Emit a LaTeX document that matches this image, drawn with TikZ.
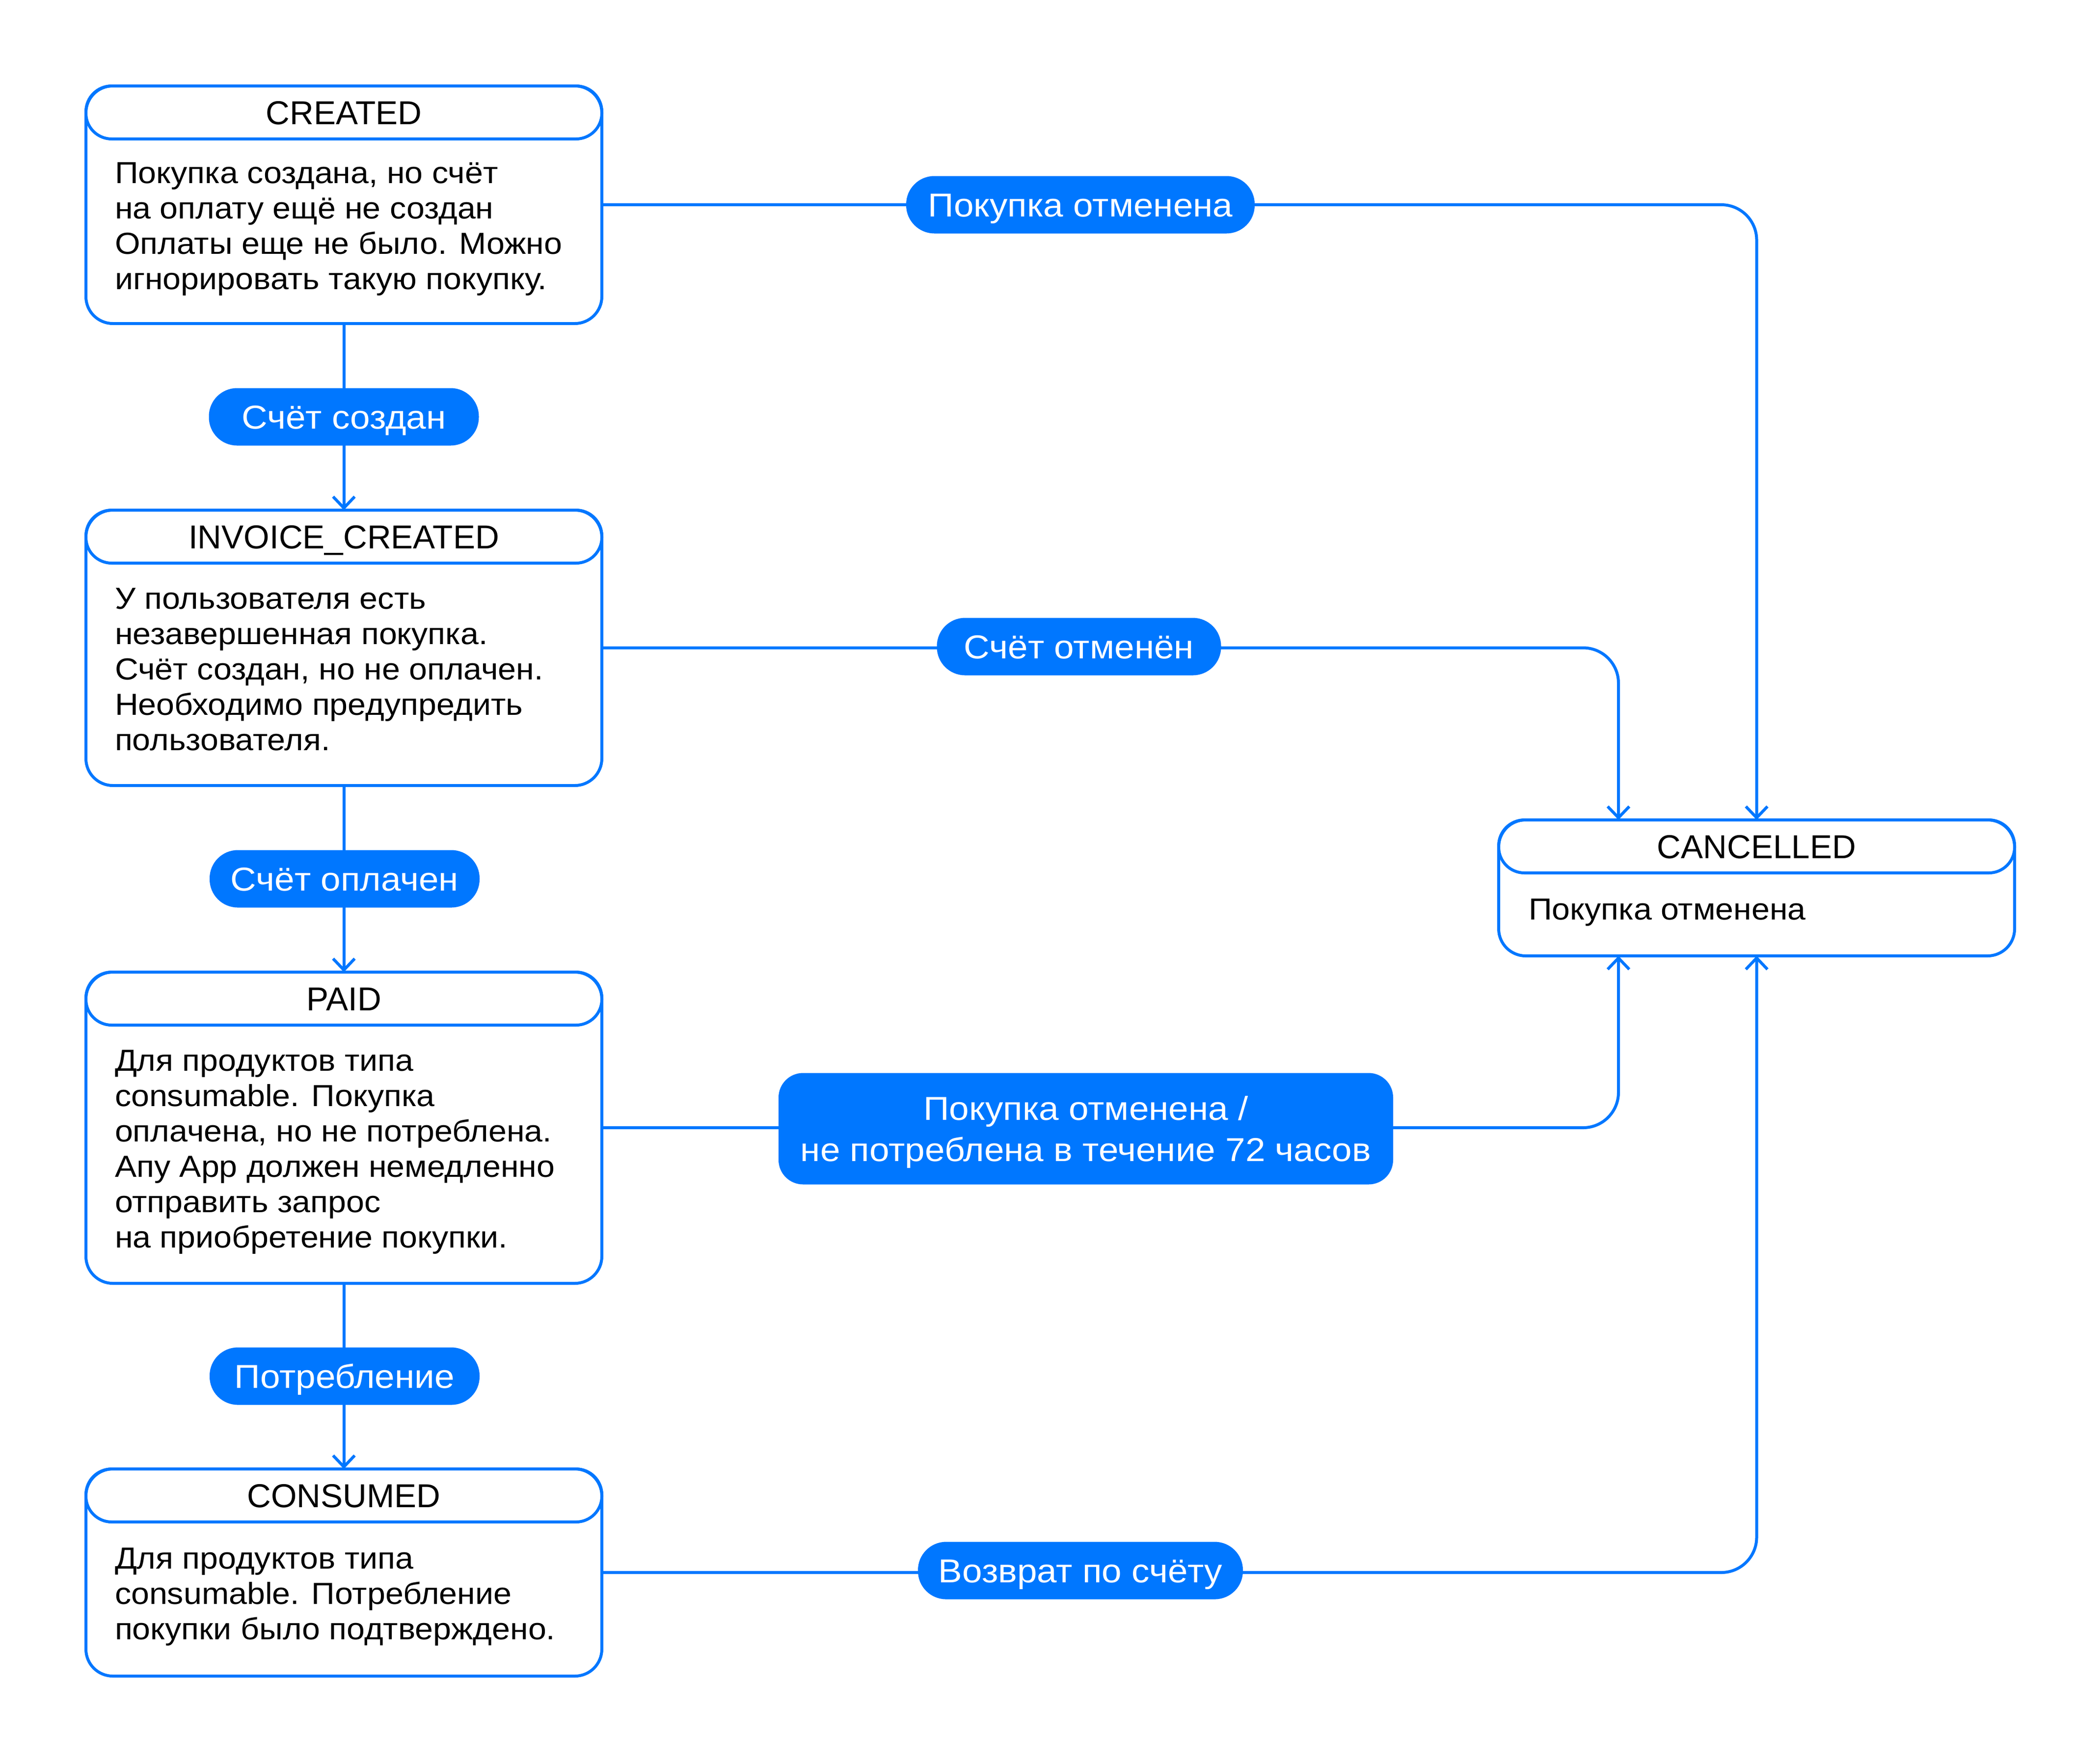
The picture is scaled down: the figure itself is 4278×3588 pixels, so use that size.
\documentclass[tikz,border=0pt]{standalone}
\usepackage{fontspec}
\setmainfont{Liberation Sans}
\newfontfamily\bodyfont{Liberation Sans}[FakeStretch=1.07]
\newfontfamily\pillfont{Liberation Sans}[FakeStretch=1.08]
\usetikzlibrary{arrows.meta}
\definecolor{brand}{HTML}{0077FF}
\begin{document}
\begin{tikzpicture}[x=0.2pt,y=-0.2pt,
 box/.style={draw=brand,line width=1.2pt,rounded corners=11pt,fill=white,inner sep=0pt,outer sep=0pt,minimum width=210.2pt,anchor=north west},
 head/.style={draw=brand,line width=1.2pt,rounded corners=10.5pt,inner sep=0pt,outer sep=0pt,minimum width=210.2pt,minimum height=21.6pt,anchor=north west,font=\fontsize{13.5pt}{16pt}\selectfont,text height=9.7pt,text depth=0pt},
 body/.style={font=\bodyfont\fontsize{12.4pt}{14.4pt}\selectfont,anchor=base west,inner sep=0pt},
 pill/.style={fill=brand,text=white,rounded corners=11.5pt,inner sep=0pt,minimum height=23.4pt,font=\pillfont\fontsize{13.5pt}{16pt}\selectfont,text height=9.7pt,text depth=0pt},
 conn/.style={draw=brand,line width=1.2pt,rounded corners=14.4pt},
 tip/.style={-{Straight Barb[length=4.6pt,width=8.8pt]}}
]
\useasboundingbox (0,0) rectangle (4278,3588);
\fill[white] (0,0) rectangle (4278,3588);

% boxes
\node[box,minimum height=96.8pt] (created) at (175,175) {};
\node[head] (createdH) at (175,175) {CREATED};
\node[body] (createdT) at (233,373.6) {\vtop{\hbox{Покупка создана, но счёт}\hbox{на оплату ещё не создан}\hbox{Оплаты еще не было. Можно}\hbox{игнорировать такую покупку.}}};

\node[box,minimum height=112.2pt] (invoice) at (175,1039) {};
\node[head] (invoiceH) at (175,1039) {INVOICE\_CREATED};
\node[body] (invoiceT) at (233,1240) {\vtop{\hbox{У пользователя есть}\hbox{незавершенная покупка.}\hbox{Счёт создан, но не оплачен.}\hbox{Необходимо предупредить}\hbox{пользователя.}}};

\node[box,minimum height=126.8pt] (paid) at (175,1980) {};
\node[head] (paidH) at (175,1980) {PAID};
\node[body] (paidT) at (233,2181.5) {\vtop{\hbox{Для продуктов типа}\hbox{consumable. Покупка}\hbox{оплачена, но не потреблена.}\hbox{Апу App должен немедленно}\hbox{отправить запрос}\hbox{на приобретение покупки.}}};

\node[box,minimum height=84.4pt] (consumed) at (175,2992) {};
\node[head] (consumedH) at (175,2992) {CONSUMED};
\node[body] (consumedT) at (233,3195) {\vtop{\hbox{Для продуктов типа}\hbox{consumable. Потребление}\hbox{покупки было подтверждено.}}};

\node[box,minimum height=55.4pt] (cancelled) at (3053,1670) {};
\node[head] (cancelledH) at (3053,1670) {CANCELLED};
\node[body] (cancelledT) at (3113,1873.5) {Покупка отменена};

% connectors
\draw[conn,tip] (created.south) -- (invoice.north);
\draw[conn,tip] (invoice.south) -- (paid.north);
\draw[conn,tip] (paid.south) -- (consumed.north);
\draw[conn,tip] (created.east) -| (cancelled.north);
\draw[conn,tip] (invoice.east) -| ([xshift=48.8pt]cancelled.north west);
\draw[conn,tip] (paid.east) -| ([xshift=48.8pt]cancelled.south west);
\draw[conn,tip] (consumed.east) -| (cancelled.south);

% labels
\node[pill,minimum width=110pt] (l1) at (700.5,849) {Счёт создан};
\node[pill,minimum width=110pt] (l2) at (702,1790) {Счёт оплачен};
\node[pill,minimum width=110pt] (l3) at (702,2803) {Потребление};
\node[pill,minimum width=142pt] (l4) at (2201,417) {Покупка отменена};
\node[pill,minimum width=115.8pt] (l5) at (2198,1317) {Счёт отменён};
\node[pill,minimum width=250.4pt,minimum height=45.4pt,rounded corners=10pt,text depth=16.8pt] (l6) at (2212,2299) {\vtop{\baselineskip=16.8pt\halign{\hfil#\hfil\cr Покупка отменена /\cr не потреблена в течение 72 часов\cr}}};
\node[pill,minimum width=132.4pt] (l7) at (2201,3199) {Возврат по счёту};
\end{tikzpicture}
\end{document}
